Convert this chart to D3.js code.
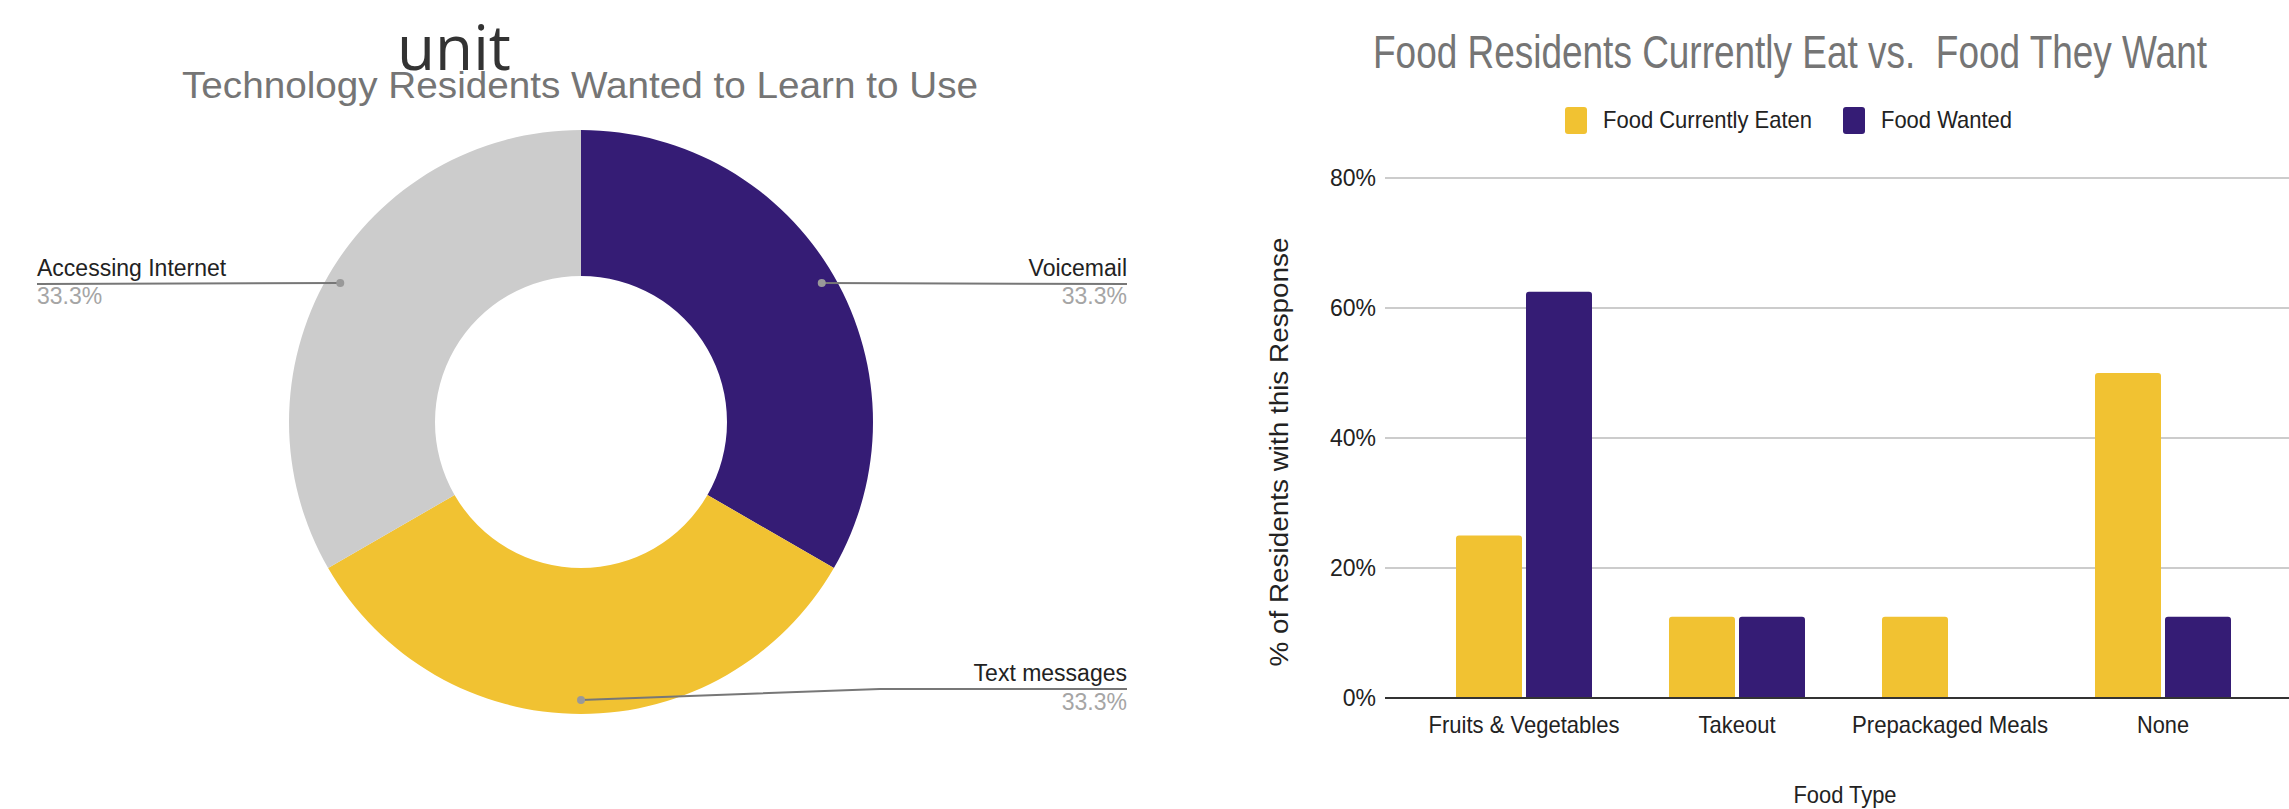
<!DOCTYPE html>
<html>
<head>
<meta charset="utf-8">
<script src="https://cdn.jsdelivr.net/npm/d3@7"></script>
<style>
  html, body { margin: 0; padding: 0; background: #fff; }
  svg { display: block; }
  text { font-family: "Liberation Sans", Arial, sans-serif; }
</style>
</head>
<body>
<svg id="chart" width="2289" height="809"></svg>
<script>
// ---------- Data ----------
const pieCategories = ["Voicemail", "Text messages", "Accessing Internet"];
const pieValues = [1, 1, 1];
const pieColors = ["#351c75", "#f1c232", "#cccccc"];

const foodCategories = ["Fruits & Vegetables", "Takeout", "Prepackaged Meals", "None"];
const seriesNames = ["Food Currently Eaten", "Food Wanted"];
const eatenValues = [25, 12.5, 12.5, 50];
const wantedValues = [62.5, 12.5, 0, 12.5];
const seriesColors = ["#f1c232", "#351c75"];
const yTickValues = [0, 20, 40, 60, 80];

const svg = d3.select("#chart");

function fit(sel, w) {
  sel.attr("textLength", w).attr("lengthAdjust", "spacingAndGlyphs");
  return sel;
}

// ---------- Left: donut ----------
svg.append("text")
  .attr("x", 454).attr("y", 70)
  .attr("text-anchor", "middle")
  .style("font-family", "'Open Sans', sans-serif")
  .style("font-size", "62px")
  .attr("fill", "#333")
  .text("unit");

fit(svg.append("text")
  .attr("x", 182).attr("y", 98)
  .style("font-size", "36px")
  .attr("fill", "#757575")
  .text("Technology Residents Wanted to Learn to Use"), 796);

const cx = 581, cy = 422, outerR = 292, innerR = 146, dotR = 278;
const pie = d3.pie().sort(null).value(d => d)(pieValues);
const arc = d3.arc().innerRadius(innerR).outerRadius(outerR);
const g = svg.append("g").attr("transform", `translate(${cx},${cy})`);
g.selectAll("path.slice").data(pie).join("path")
  .attr("class", "slice")
  .attr("d", arc)
  .attr("fill", (d, i) => pieColors[i]);

const total = d3.sum(pieValues);
const pct = d3.format(".1%");
// label layout per slice: side, text anchor x, line y, text baseline
const labelLayout = [
  { side: "right", tx: 1127, ly: 284, ty: 276, py: 304 },
  { side: "right", tx: 1127, ly: 689, ty: 681, py: 710, bend: 880 },
  { side: "left",  tx: 37,   ly: 284, ty: 276, py: 304 }
];
pie.forEach((d, i) => {
  const a = (d.startAngle + d.endAngle) / 2;
  const px = cx + dotR * Math.sin(a);
  const py = cy - dotR * Math.cos(a);
  const L = labelLayout[i];
  let pts;
  if (L.bend) pts = [[px, py], [L.bend, L.ly], [L.tx, L.ly]];
  else pts = [[px, py], [L.tx, L.ly]];
  svg.append("path")
    .attr("d", d3.line()(pts))
    .attr("fill", "none").attr("stroke", "#777").attr("stroke-width", 2);
  svg.append("circle").attr("cx", px).attr("cy", py).attr("r", 4).attr("fill", "#999");
  const anchor = L.side === "right" ? "end" : "start";
  svg.append("text").attr("x", L.tx).attr("y", L.ty)
    .attr("text-anchor", anchor).style("font-size", "23px").attr("fill", "#222")
    .text(pieCategories[i]);
  svg.append("text").attr("x", L.tx).attr("y", L.py)
    .attr("text-anchor", anchor).style("font-size", "23px").attr("fill", "#a5a5a5")
    .text(pct(pieValues[i] / total));
});

// ---------- Right: grouped bars ----------
fit(svg.append("text")
  .attr("x", 1373).attr("y", 68)
  .attr("xml:space", "preserve")
  .style("white-space", "pre")
  .style("font-size", "46px")
  .attr("fill", "#757575")
  .text("Food Residents Currently Eat vs.  Food They Want"), 834);

// legend
const legendPos = [{ bx: 1565, tx: 1603, w: 209 }, { bx: 1843, tx: 1881, w: 131 }];
seriesNames.forEach((s, i) => {
  svg.append("rect").attr("x", legendPos[i].bx).attr("y", 107)
    .attr("width", 22).attr("height", 27).attr("rx", 3)
    .attr("fill", seriesColors[i]);
  fit(svg.append("text").attr("x", legendPos[i].tx).attr("y", 128)
    .style("font-size", "24px").attr("fill", "#222").text(s), legendPos[i].w);
});

const y = d3.scaleLinear().domain([0, 80]).range([698, 178]);
const plotLeft = 1385, plotRight = 2289;
const pIn = 0.3615;
const x0 = d3.scaleBand().domain(foodCategories).range([1417.5, 2269.5])
  .paddingInner(pIn).paddingOuter(pIn / 2);
const x1 = d3.scaleBand().domain(seriesNames).range([0, x0.bandwidth()])
  .paddingInner(0.0571).paddingOuter(0);

// gridlines
svg.append("g").selectAll("line").data(yTickValues.filter(v => v > 0)).join("line")
  .attr("x1", plotLeft).attr("x2", plotRight)
  .attr("y1", d => y(d)).attr("y2", d => y(d))
  .attr("stroke", "#cccccc").attr("stroke-width", 2);

// y axis labels
const yAxis = d3.axisLeft(y).tickValues(yTickValues).tickFormat(d => d + "%").tickSize(0).tickPadding(0);
const yg = svg.append("g").attr("transform", `translate(1376,0)`).call(yAxis);
yg.select(".domain").remove();
yg.selectAll("text").style("font-family", "'Liberation Sans', Arial, sans-serif")
  .style("font-size", "23px").attr("fill", "#222");

// bars
const seriesValues = [eatenValues, wantedValues];
const rt = 3;
function topRounded(xp, yp, w, h) {
  if (h <= 0) return "";
  const r = Math.min(rt, h, w / 2);
  return `M${xp},${yp + h}V${yp + r}Q${xp},${yp} ${xp + r},${yp}H${xp + w - r}Q${xp + w},${yp} ${xp + w},${yp + r}V${yp + h}Z`;
}
foodCategories.forEach((c, ci) => {
  seriesNames.forEach((s, si) => {
    const v = seriesValues[si][ci];
    const bx = x0(c) + x1(s);
    const by = y(v);
    svg.append("path")
      .attr("d", topRounded(bx, by, x1.bandwidth(), y(0) - by))
      .attr("fill", seriesColors[si]);
  });
});

// baseline
svg.append("line").attr("x1", plotLeft).attr("x2", plotRight)
  .attr("y1", y(0)).attr("y2", y(0)).attr("stroke", "#333").attr("stroke-width", 2);

// x axis labels
const xAxis = d3.axisBottom(x0).tickSize(0).tickPadding(0);
const xg = svg.append("g").attr("transform", `translate(0,716)`).call(xAxis);
xg.select(".domain").remove();
const catWidths = [191, 77, 196, 52];
xg.selectAll("text")
  .style("font-family", "'Liberation Sans', Arial, sans-serif")
  .style("font-size", "24px").attr("fill", "#222")
  .attr("dy", null).attr("y", 17)
  .each(function(d, i) { fit(d3.select(this), catWidths[i]); });

// axis titles
fit(svg.append("text").attr("x", 1845).attr("y", 803).attr("text-anchor", "middle")
  .style("font-size", "24px").attr("fill", "#222").text("Food Type"), 103);
fit(svg.append("text").attr("transform", "translate(1288,452) rotate(-90)")
  .attr("text-anchor", "middle")
  .style("font-size", "25px").attr("fill", "#222").text("% of Residents with this Response"), 429);
</script>
</body>
</html>
